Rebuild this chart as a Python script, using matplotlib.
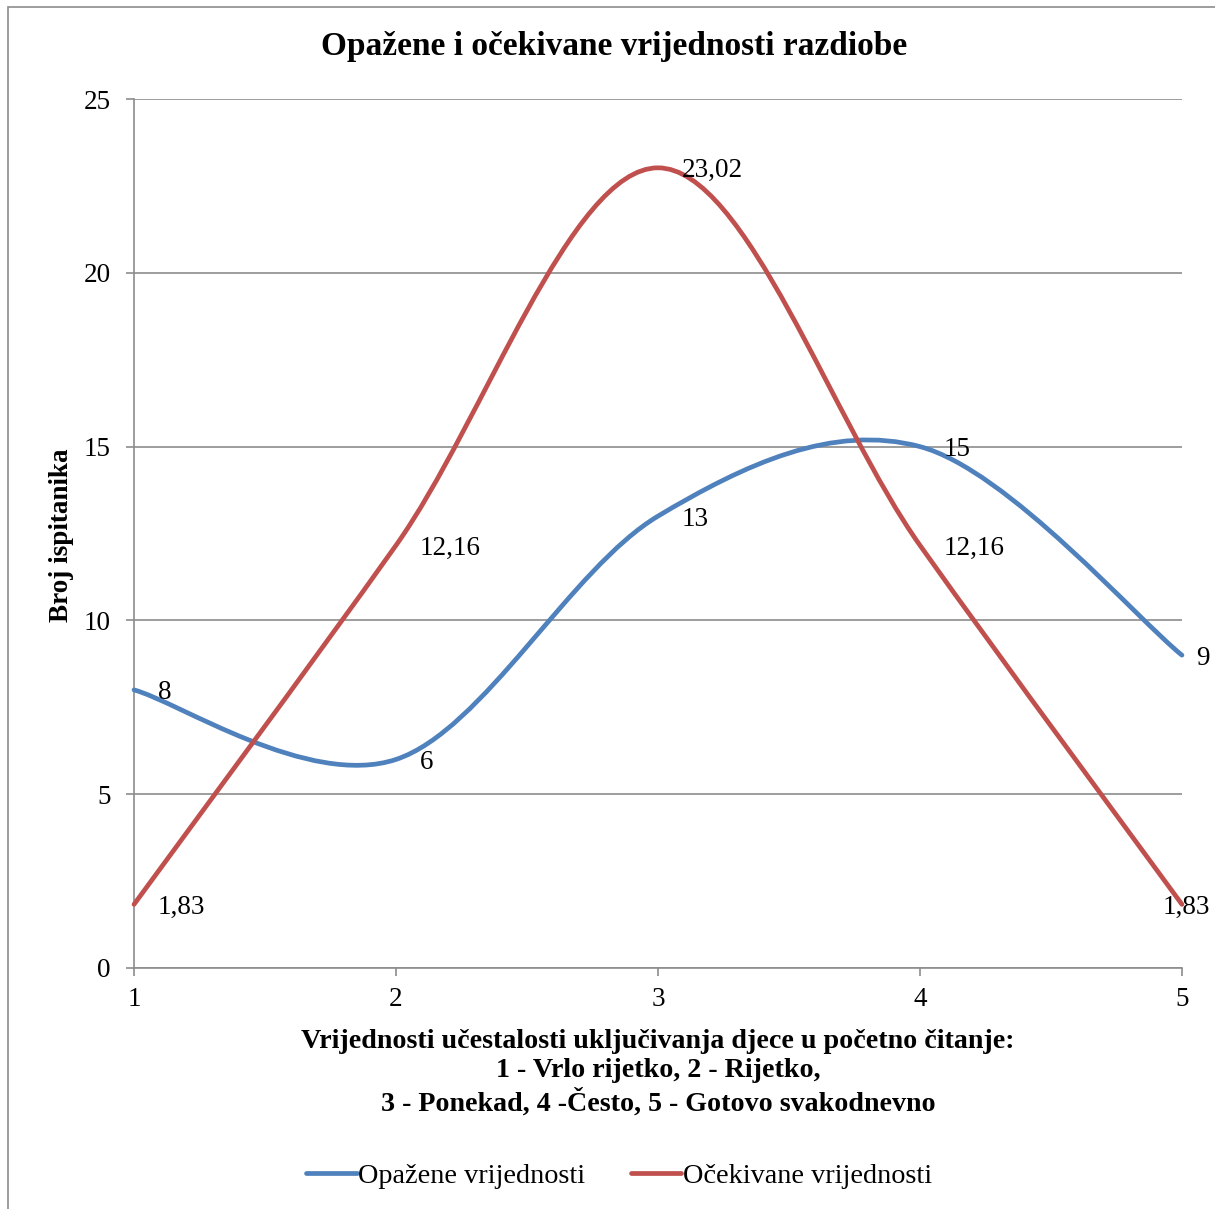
import matplotlib.pyplot as plt
from matplotlib.path import Path
from matplotlib.patches import PathPatch, Rectangle
from matplotlib.lines import Line2D

plt.rcParams['font.family'] = ['Liberation Serif', 'DejaVu Serif']

# podaci
kategorije = [1, 2, 3, 4, 5]
opazene = [8, 6, 13, 15, 9]
ocekivane = [1.83, 12.16, 23.02, 12.16, 1.83]
oznake_opazene = ['8', '6', '13', '15', '9']
oznake_ocekivane = ['1,83', '12,16', '23,02', '12,16', '1,83']

PLAVA = '#4F81BD'
CRVENA = '#C0504D'
SIVA = '#8C8C8C'


def excel_smooth_path(xs, ys):
    # Bezier segmenti kao u Excelovoj "smoothed line" opciji
    n = len(xs)
    verts = [(xs[0], ys[0])]
    codes = [Path.MOVETO]
    for i in range(n - 1):
        i0 = max(i - 1, 0)
        i3 = min(i + 2, n - 1)
        c1 = (xs[i] + (xs[i + 1] - xs[i0]) / 6, ys[i] + (ys[i + 1] - ys[i0]) / 6)
        c2 = (xs[i + 1] - (xs[i3] - xs[i]) / 6, ys[i + 1] - (ys[i3] - ys[i]) / 6)
        verts += [c1, c2, (xs[i + 1], ys[i + 1])]
        codes += [Path.CURVE4] * 3
    return Path(verts, codes)


fig = plt.figure(figsize=(12.15, 12.09), dpi=100)
ax = fig.add_axes([0.1103, 0.19934, 0.8625, 0.71877])

for ys, boja in [(opazene, PLAVA), (ocekivane, CRVENA)]:
    patch = PathPatch(excel_smooth_path(kategorije, ys), facecolor='none',
                      edgecolor=boja, lw=3.4, capstyle='round', joinstyle='round',
                      zorder=3, clip_on=False)
    ax.add_patch(patch)

# oznake podataka
pomak_desno = {(0, 4), (1, 4)}
for s, (ys, oznake) in enumerate([(opazene, oznake_opazene), (ocekivane, oznake_ocekivane)]):
    for i, (x, y, t) in enumerate(zip(kategorije, ys, oznake)):
        if (s, i) in pomak_desno:
            ax.annotate(t, (x, y), xytext=(28, -3), textcoords='offset pixels',
                        ha='right', va='center', fontsize=19.5, zorder=4,
                        annotation_clip=False)
        else:
            ax.annotate(t, (x, y), xytext=(24, -3), textcoords='offset pixels',
                        ha='left', va='center', fontsize=19.5, zorder=4,
                        annotation_clip=False)

ax.set_xlim(1, 5)
ax.set_ylim(0, 25)
ax.set_xticks(kategorije)
ax.set_yticks([0, 5, 10, 15, 20, 25])
ax.yaxis.grid(True, color=SIVA, lw=1.2)
ax.set_axisbelow(True)
for side in ['top', 'right']:
    ax.spines[side].set_visible(False)
for side in ['left', 'bottom']:
    ax.spines[side].set_color(SIVA)
    ax.spines[side].set_linewidth(1.2)
ax.tick_params(axis='both', direction='out', length=6, width=1.2, color=SIVA,
               labelsize=19.5)
ax.tick_params(axis='y', pad=11)
ax.tick_params(axis='x', pad=8)

fig.text(614 / 1215, 1 - 47 / 1209, 'Opažene i očekivane vrijednosti razdiobe',
         ha='center', va='center', fontsize=24, fontweight='bold')
fig.text(61 / 1215, 1 - 535 / 1209, 'Broj ispitanika', rotation=90,
         ha='center', va='center', fontsize=19.5, fontweight='bold')
fig.text(658 / 1215, 1 - 1073 / 1209,
         'Vrijednosti učestalosti uključivanja djece u početno čitanje:\n'
         '1 - Vrlo rijetko, 2 - Rijetko,\n'
         '3 - Ponekad, 4 -Često, 5 - Gotovo svakodnevno',
         ha='center', va='center', multialignment='center', linespacing=1.22,
         fontsize=20.2, fontweight='bold')

ruke = [Line2D([], [], color=PLAVA, lw=3.4, solid_capstyle='round'),
        Line2D([], [], color=CRVENA, lw=3.4, solid_capstyle='round')]
fig.legend(ruke, ['Opažene vrijednosti', 'Očekivane vrijednosti'], loc='center',
           bbox_to_anchor=(619 / 1215, 1 - 1176 / 1209), ncol=2, frameon=False,
           fontsize=20.3, handlelength=1.8, handletextpad=0.05, columnspacing=1.6)

fig.add_artist(Rectangle((8 / 1215, -0.05), 1.1, 1 - 7 / 1209 + 0.05,
                         transform=fig.transFigure, fill=False,
                         edgecolor=SIVA, lw=1.2))

fig.savefig('out.png', dpi=100)
